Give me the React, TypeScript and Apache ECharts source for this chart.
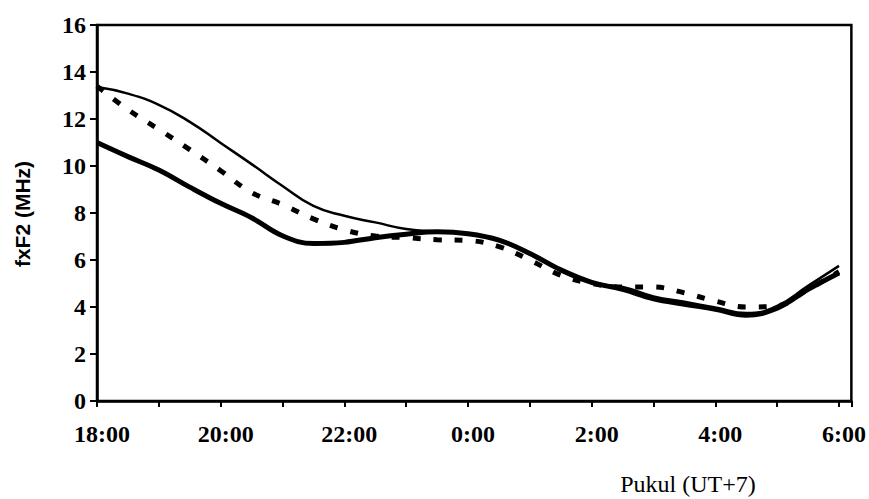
import React, { useEffect, useRef } from "react";
import * as echarts from "echarts";

// hours after 18:00 (UT+7)
const hours = [0, 0.5, 1, 1.5, 2, 2.5, 3, 3.5, 4, 4.5, 5, 5.5, 6, 6.5, 7, 7.5, 8, 8.5, 9, 9.5, 10, 10.5, 11, 11.5, 12];

const thinSeries = [13.36, 13.08, 12.6, 11.88, 10.98, 10.08, 9.15, 8.3, 7.88, 7.6, 7.32, 7.2, 7.12, 6.88, 6.3, 5.55, 5.02, 4.85, 4.45, 4.22, 3.98, 3.74, 4.05, 4.9, 5.75];
const thickSeries = [11.0, 10.4, 9.83, 9.1, 8.41, 7.8, 7.03, 6.7, 6.75, 6.95, 7.1, 7.2, 7.12, 6.85, 6.28, 5.58, 5.05, 4.75, 4.35, 4.12, 3.9, 3.65, 3.95, 4.75, 5.45];
const dashedSeries = [13.4, 12.4, 11.56, 10.7, 9.8, 8.87, 8.36, 7.75, 7.28, 7.02, 6.95, 6.86, 6.83, 6.57, 6.0, 5.35, 5.0, 4.85, 4.85, 4.6, 4.25, 4.0, 4.05, 4.75, 5.5];

const xTickLabels = ["18:00", "20:00", "22:00", "0:00", "2:00", "4:00", "6:00"];
const yAxisTitle = "fxF2 (MHz)";
const xAxisTitle = "Pukul (UT+7)";

const pairs = (vals: number[]) => hours.map((h, i) => [h, vals[i]]);

export default function App() {
  const ref = useRef<HTMLDivElement>(null);
  useEffect(() => {
    if (!ref.current) return;
    const chart = echarts.init(ref.current, null, { renderer: "svg" });
    const serif = "'Liberation Serif', 'Times New Roman', serif";
    chart.setOption({
      animation: false,
      backgroundColor: "#ffffff",
      grid: {
        left: 97,
        right: 17,
        top: 25,
        bottom: 98,
        show: true,
        borderColor: "#000",
        borderWidth: 2.5,
        backgroundColor: "transparent",
      },
      xAxis: {
        type: "value",
        min: 0,
        max: 12.2,
        interval: 1,
        splitLine: { show: false },
        axisLine: { lineStyle: { color: "#000", width: 2.5 } },
        axisTick: { show: true, length: 6, lineStyle: { color: "#000", width: 2 } },
        axisLabel: {
          margin: 21,
          color: "#000",
          fontFamily: serif,
          fontWeight: "bold",
          fontSize: 24,
          padding: [0, 0, 0, 10],
          showMaxLabel: true,
          formatter: (v: number) => {
            const r = Math.round(v);
            if (Math.abs(v - r) > 1e-6 || r % 2 !== 0 || r > 12) return "";
            return xTickLabels[r / 2];
          },
        },
      },
      yAxis: {
        type: "value",
        min: 0,
        max: 16,
        interval: 2,
        splitLine: { show: false },
        axisLine: { show: true, lineStyle: { color: "#000", width: 2.5 } },
        axisTick: { show: true, length: 7, lineStyle: { color: "#000", width: 2 } },
        axisLabel: {
          margin: 11,
          color: "#000",
          fontFamily: serif,
          fontWeight: "bold",
          fontSize: 24,
        },
      },
      graphic: [
        {
          type: "text",
          x: 22,
          y: 214,
          rotation: Math.PI / 2,
          style: {
            text: yAxisTitle,
            fill: "#000",
            font: "bold 21px 'Liberation Sans', Arial, sans-serif",
            align: "center",
            verticalAlign: "middle",
          },
        },
        {
          type: "text",
          x: 688,
          y: 484,
          style: {
            text: xAxisTitle,
            fill: "#000",
            font: "24px 'Liberation Serif', 'Times New Roman', serif",
            align: "center",
            verticalAlign: "middle",
          },
        },
      ],
      series: [
        {
          type: "line",
          data: pairs(dashedSeries),
          smooth: 0.4,
          showSymbol: false,
          lineStyle: { color: "#000", width: 5, type: [8, 13], cap: "butt" },
        },
        {
          type: "line",
          data: pairs(thinSeries),
          smooth: 0.5,
          showSymbol: false,
          lineStyle: { color: "#000", width: 2.5 },
        },
        {
          type: "line",
          data: pairs(thickSeries),
          smooth: 0.4,
          showSymbol: false,
          lineStyle: { color: "#000", width: 5 },
        },
      ],
    });
    return () => chart.dispose();
  }, []);
  return (
    <div
      ref={ref}
      style={{ position: "absolute", left: 0, top: 0, width: 869, height: 499 }}
    />
  );
}
